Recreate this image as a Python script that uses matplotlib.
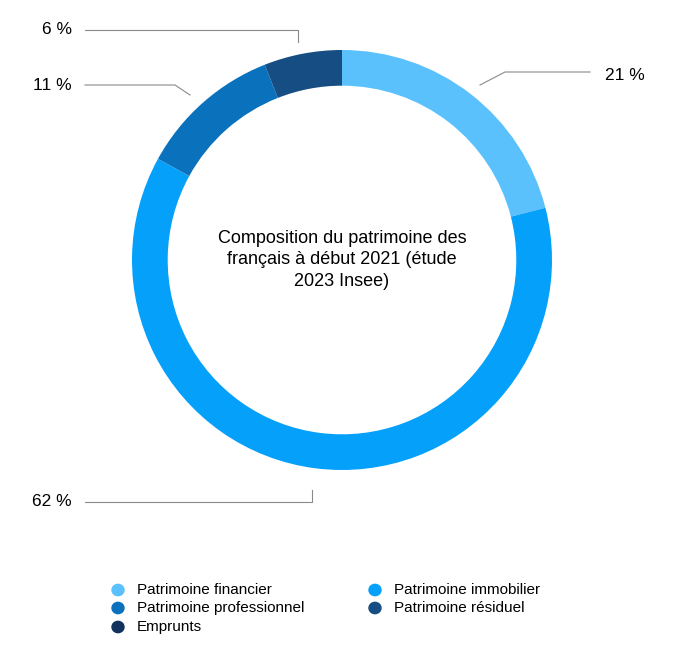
import matplotlib.pyplot as plt
import numpy as np

plt.rcParams['font.family'] = ['Liberation Sans', 'DejaVu Sans']

categories = ['Patrimoine financier', 'Patrimoine immobilier', 'Patrimoine professionnel',
              'Patrimoine résiduel', 'Emprunts']
shares = [21, 62, 11, 6, 0]
colors = ['#5AC1FC', '#05A0FA', '#0A72BD', '#164D82', '#12325E']
labels = ['21 %', '62 %', '11 %', '6 %']

W, H = 700, 659
fig = plt.figure(figsize=(W / 100, H / 100), dpi=100)
cx, cy, R = 342, 260, 210
ax = fig.add_axes([(cx - R) / W, (H - cy - R) / H, 2 * R / W, 2 * R / H])

ax.pie(shares[:4], colors=colors[:4], startangle=90, counterclock=False, radius=1,
       wedgeprops=dict(width=0.17, edgecolor='none'))
ax.set_xlim(-1, 1)
ax.set_ylim(-1, 1)
ax.set_aspect('equal')
ax.axis('off')

ax.text(0, 0.0, 'Composition du patrimoine des\nfrançais à début 2021 (étude\n2023 Insee)',
        ha='center', va='center', fontsize=13, linespacing=1.35)

# leader lines (pixel points converted to ring units, radius 1)
def px(x, y):
    return (x - cx) / R, (cy - y) / R

leaders = [
    [(480, 85), (505, 72), (590, 72)],
    [(312, 490), (312, 502), (85, 502)],
    [(190, 95), (175, 85), (85, 85)],
    [(298, 42), (298, 30), (85, 30)],
]
text_pos = [(605, 75, 'left'), (72, 502, 'right'), (72, 85, 'right'), (72, 30, 'right')]
for pts, (tx, ty, ha), lab in zip(leaders, text_pos, labels):
    xs, ys = zip(*[px(*p) for p in pts])
    ax.plot(xs, ys, color='#8a8a8a', lw=0.8, clip_on=False)
    x, y = px(tx, ty)
    ax.text(x, y, lab, ha=ha, va='center', fontsize=12.5, clip_on=False)

# legend
leg_pos = [(118, 590), (375, 590), (118, 608), (375, 608), (118, 627)]
for (lx, ly), cat, col in zip(leg_pos, categories, colors):
    fig.patches.append(plt.Circle((lx / W, 1 - ly / H), 6 / W, transform=fig.transFigure,
                                  color=col))
    fig.text((lx + 19) / W, 1 - ly / H, cat, ha='left', va='center', fontsize=11)

fig.savefig('out.png', dpi=100, facecolor='white')
